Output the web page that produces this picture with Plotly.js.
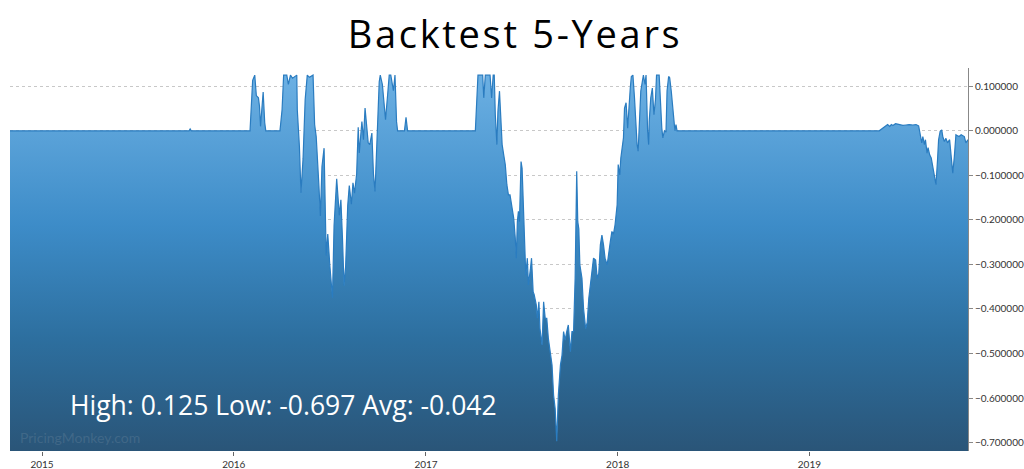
<!DOCTYPE html>
<html>
<head>
<meta charset="utf-8">
<script src="https://cdn.plot.ly/plotly-3.0.1.min.js"></script>
<style>
  html, body { margin: 0; padding: 0; background: #fff; }
  #chart { width: 1024px; height: 469px; }
  .gtitle { letter-spacing: 2.7px; }
</style>
</head>
<body>
<div id="chart"></div>
<script>
const chartTitle = 'Backtest 5-Years';
const statHigh = 0.125;
const statLow = -0.697;
const statAvg = -0.042;
const watermark = 'PricingMonkey.com';

const dates = [
'2014-11-01','2015-10-08','2015-10-10','2015-10-12','2016-02-01','2016-02-03','2016-02-06','2016-02-10','2016-02-13','2016-02-17',
'2016-02-19','2016-02-21','2016-02-26','2016-02-29','2016-03-02','2016-03-29','2016-04-02','2016-04-05','2016-04-11','2016-04-14',
'2016-04-18','2016-04-22','2016-04-30','2016-05-01','2016-05-05','2016-05-08','2016-05-12','2016-05-16','2016-05-20','2016-05-24',
'2016-05-31','2016-06-03','2016-06-06','2016-06-11','2016-06-14','2016-06-17','2016-06-21','2016-06-25','2016-06-28','2016-07-02',
'2016-07-07','2016-07-10','2016-07-15','2016-07-20','2016-07-23','2016-07-26','2016-07-29','2016-08-01','2016-08-05','2016-08-08',
'2016-08-12','2016-08-15','2016-08-18','2016-08-22','2016-08-25','2016-08-27','2016-09-01','2016-09-04','2016-09-07','2016-09-13',
'2016-09-16','2016-09-20','2016-09-23','2016-09-26','2016-09-30','2016-10-04','2016-10-06','2016-10-10','2016-10-14','2016-10-16',
'2016-10-20','2016-10-23','2016-10-26','2016-10-31','2016-11-03','2016-11-06','2016-11-08','2016-11-21','2016-11-24','2016-11-27',
'2017-04-05','2017-04-06','2017-04-10','2017-04-19','2017-04-21','2017-04-24','2017-05-03','2017-05-06','2017-05-09','2017-05-11',
'2017-05-13','2017-05-16','2017-05-18','2017-05-21','2017-05-24','2017-05-26','2017-05-29','2017-06-01','2017-06-04','2017-06-07',
'2017-06-10','2017-06-14','2017-06-17','2017-06-20','2017-06-22','2017-06-24','2017-06-26','2017-06-28','2017-07-01','2017-07-03',
'2017-07-06','2017-07-08','2017-07-10','2017-07-13','2017-07-15','2017-07-19','2017-07-21','2017-07-24','2017-07-26','2017-07-30',
'2017-08-01','2017-08-04','2017-08-06','2017-08-10','2017-08-13','2017-08-16','2017-08-19','2017-08-22','2017-08-25','2017-08-29',
'2017-09-01','2017-09-04','2017-09-07','2017-09-10','2017-09-14','2017-09-17','2017-09-20','2017-09-23','2017-09-26','2017-09-29',
'2017-10-03','2017-10-06','2017-10-09','2017-10-12','2017-10-15','2017-10-17','2017-10-19','2017-10-21','2017-10-25','2017-10-28',
'2017-11-01','2017-11-04','2017-11-07','2017-11-10','2017-11-13','2017-11-16','2017-11-20','2017-11-23','2017-11-26','2017-11-29',
'2017-12-02','2017-12-05','2017-12-08','2017-12-12','2017-12-15','2017-12-18','2017-12-21','2017-12-24','2017-12-27','2017-12-31',
'2018-01-02','2018-01-05','2018-01-07','2018-01-10','2018-01-12','2018-01-14','2018-01-17','2018-01-20','2018-01-22','2018-01-25',
'2018-01-27','2018-01-30','2018-02-02','2018-02-04','2018-02-07','2018-02-09','2018-02-12','2018-02-14','2018-02-17','2018-02-19',
'2018-02-22','2018-02-24','2018-02-27','2018-03-01','2018-03-02','2018-03-05','2018-03-08','2018-03-11','2018-03-14','2018-03-16',
'2018-03-21','2018-03-23','2018-03-26','2018-03-28','2018-03-31','2018-04-03','2018-04-05','2018-04-08','2018-04-10','2018-04-13',
'2018-04-15','2018-04-18','2018-04-20','2018-04-22','2018-04-24','2019-05-14','2019-05-27','2019-05-30','2019-06-03','2019-06-06',
'2019-06-09','2019-06-14','2019-06-18','2019-06-22','2019-06-28','2019-07-04','2019-07-10','2019-07-17','2019-07-23','2019-07-28',
'2019-07-31','2019-08-03','2019-08-05','2019-08-08','2019-08-10','2019-08-13','2019-08-15','2019-08-18','2019-08-21','2019-08-24',
'2019-08-27','2019-08-30','2019-09-02','2019-09-04','2019-09-07','2019-09-10','2019-09-12','2019-09-15','2019-09-18','2019-09-21',
'2019-09-25','2019-09-28','2019-10-01','2019-10-04','2019-10-07','2019-10-10','2019-10-13','2019-10-17','2019-10-20','2019-10-23',
'2019-10-26','2019-10-30'
];

const values = [
0,0,0.004,0,0,0.055,0.113,0.125,0.079,0.074,
0.055,0.01,0.087,0.018,0,0,0.047,0.125,0.125,0.104,
0.125,0.118,0.125,0.047,-0.035,-0.139,-0.062,0.07,0.125,0.12,
0.125,0.014,-0.013,-0.12,-0.191,-0.08,-0.039,-0.28,-0.232,-0.303,
-0.375,-0.213,-0.108,-0.19,-0.155,-0.241,-0.348,-0.305,-0.168,-0.123,
-0.165,-0.117,-0.14,-0.097,0.008,-0.05,0.021,-0.02,0.051,-0.027,
-0.031,-0.005,-0.097,-0.136,-0.027,0.11,0.125,0.104,0.051,0.025,
0.081,0.125,0.125,0.09,0.125,0.02,0,0,0.03,0,
0,0.02,0.125,0.125,0.074,0.125,0.125,0.074,0.125,0.125,
0.036,-0.031,0.044,0.089,-0.001,-0.031,-0.054,-0.076,-0.121,-0.144,
-0.144,-0.174,-0.196,-0.241,-0.286,-0.204,-0.181,-0.204,-0.069,-0.084,
-0.181,-0.241,-0.324,-0.286,-0.346,-0.309,-0.286,-0.361,-0.368,-0.391,
-0.421,-0.384,-0.444,-0.481,-0.384,-0.421,-0.421,-0.466,-0.496,-0.526,
-0.594,-0.624,-0.697,-0.594,-0.526,-0.504,-0.451,-0.47,-0.451,-0.436,
-0.496,-0.451,-0.451,-0.331,-0.091,-0.204,-0.22,-0.301,-0.331,-0.399,
-0.444,-0.43,-0.376,-0.339,-0.316,-0.286,-0.29,-0.331,-0.32,-0.256,
-0.234,-0.256,-0.286,-0.301,-0.271,-0.249,-0.226,-0.232,-0.211,-0.166,
-0.076,-0.099,-0.061,-0.024,-0.016,0.051,0.063,0.006,0.051,0.096,
0.122,0.125,0.074,0.021,-0.031,-0.046,0.036,0.089,0.111,0.125,
0.104,0.125,-0.001,-0.031,0.02,0.074,0.096,0.036,0.07,0.125,
0.125,0.074,0.006,-0.016,0,-0.003,0.089,0.122,0.119,0.089,
0.059,0.014,0,0.014,0,0,0.01,0.014,0.01,0.014,
0.012,0.016,0.015,0.014,0.012,0.013,0.014,0.013,0.014,0.011,
-0.013,-0.027,-0.013,-0.031,-0.02,-0.05,-0.038,-0.054,-0.061,-0.08,
-0.099,-0.121,-0.065,-0.02,-0.001,0.002,-0.013,-0.024,-0.017,-0.027,
-0.02,-0.065,-0.095,-0.058,-0.009,-0.011,-0.013,-0.009,-0.011,-0.013,
-0.027,-0.02
];

const yRange = [-0.719, 0.141];
const xRange = ['2014-11-01', '2019-10-30'];

const baseline = {
  x: [dates[0], dates[dates.length - 1]],
  y: [yRange[0], yRange[0]],
  mode: 'lines',
  line: { width: 0, color: 'rgba(0,0,0,0)' },
  hoverinfo: 'skip',
  showlegend: false,
  type: 'scatter'
};

const series = {
  x: dates,
  y: values,
  mode: 'lines',
  line: { color: '#2a7cc0', width: 1.2 },
  fill: 'tonexty',
  fillgradient: {
    type: 'vertical',
    start: yRange[0],
    stop: statHigh,
    colorscale: [
      [0, '#2a5578'],
      [0.3, '#2d6f9f'],
      [0.6, '#3d8cc8'],
      [1, '#6cb0e3']
    ]
  },
  showlegend: false,
  type: 'scatter'
};

const fmt = v => v.toFixed(3);

const layout = {
  width: 1024,
  height: 469,
  margin: { l: 10, r: 56, t: 68, b: 18 },
  paper_bgcolor: '#ffffff',
  plot_bgcolor: '#ffffff',
  title: {
    text: chartTitle,
    font: { family: 'Open Sans, sans-serif', size: 38, color: '#000000' },
    x: 0.503,
    xanchor: 'center',
    y: 0.925,
    yanchor: 'middle'
  },
  xaxis: {
    type: 'date',
    range: xRange,
    tickformat: '%Y',
    dtick: 'M12',
    tick0: '2015-01-01',
    ticks: 'outside',
    ticklen: 4,
    tickcolor: '#666',
    showgrid: false,
    zeroline: false,
    showline: false,
    tickfont: { family: 'Lato, sans-serif', size: 10, color: '#333' }
  },
  yaxis: {
    side: 'right',
    range: yRange,
    dtick: 0.1,
    tick0: 0,
    tickformat: '.6f',
    ticks: 'outside',
    ticklen: 4,
    tickcolor: '#888',
    showline: true,
    linecolor: '#888',
    linewidth: 1,
    showgrid: true,
    gridcolor: '#c8c8c8',
    griddash: '3px,3px',
    zeroline: false,
    tickfont: { family: 'Lato, sans-serif', size: 10, color: '#333' }
  },
  annotations: [
    {
      xref: 'paper', yref: 'paper',
      x: 0.0605, y: 0.12,
      xanchor: 'left', yanchor: 'middle',
      text: 'High: ' + fmt(statHigh) + ' Low: ' + fmt(statLow) + ' Avg: ' + fmt(statAvg),
      showarrow: false,
      font: { family: 'Open Sans, sans-serif', size: 26.5, color: '#ffffff' }
    },
    {
      xref: 'paper', yref: 'paper',
      x: 0.008, y: 0.034,
      xanchor: 'left', yanchor: 'middle',
      text: watermark,
      showarrow: false,
      font: { family: 'Lato, sans-serif', size: 14, color: 'rgba(100,130,155,0.4)' }
    }
  ]
};

Plotly.newPlot('chart', [baseline, series], layout, { displayModeBar: false, staticPlot: true });
</script>
</body>
</html>
